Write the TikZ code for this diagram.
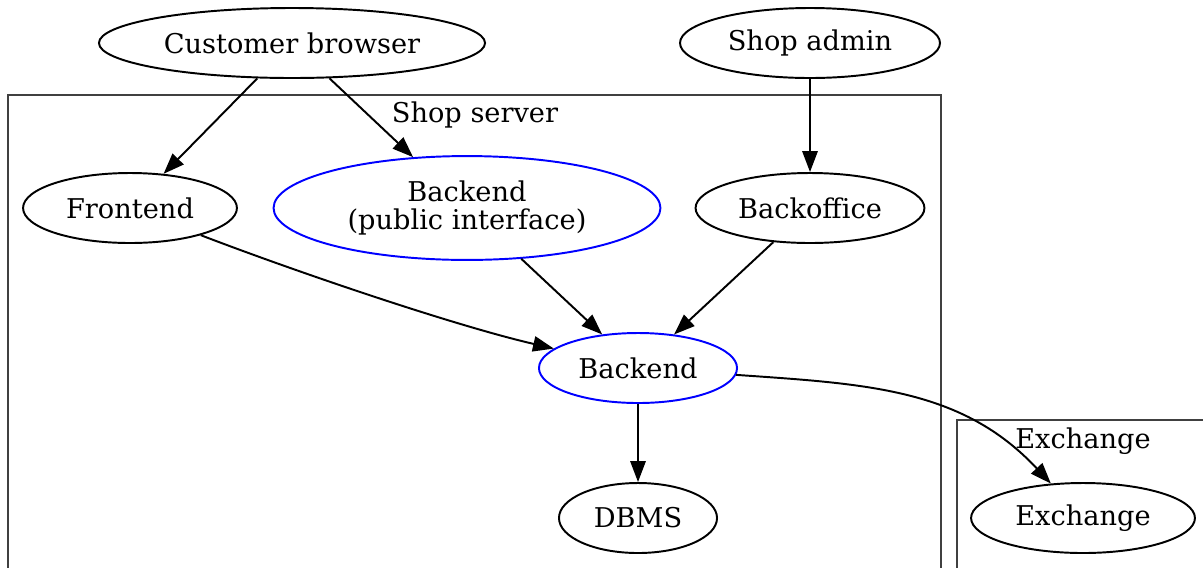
\documentclass[tikz,border=0pt]{standalone}
\usepackage{fontspec}
\setmainfont{DejaVu Serif}
\usetikzlibrary{arrows.meta,shapes.geometric}

\begin{document}
\begin{tikzpicture}[x=0.36pt,y=-0.36pt,
        every node/.style={font=\fontsize{9.8}{10.3}\selectfont},
        entity/.style={ellipse,draw,line width=0.7pt,inner sep=0pt,minimum height=25.2pt},
        service/.style={entity,draw=blue},
        cluster/.style={draw=black!75,line width=0.7pt},
        flow/.style={-{Triangle[length=7.5pt,width=5.5pt]},line width=0.7pt}]
    \clip (0,0) rectangle (1203,567);
    \draw[cluster] (8,95) rectangle (941,600);
    \node (shoplabel) at (475,115) {Shop server};
    \draw[cluster] (957,420) rectangle (1220,600);
    \node (exlabel) at (1083,441) {Exchange};
    \node[entity,minimum width=139pt] (browser) at (292,43) {Customer browser};
    \node[entity,minimum width=93.6pt] (admin) at (810,43) {Shop admin};
    \node[entity,minimum width=77pt] (frontend) at (130,208) {Frontend};
    \node[service,minimum width=139.3pt,minimum height=37.4pt,align=center] (public) at (467,208) {Backend\\(public interface)};
    \node[entity,minimum width=82.4pt] (backoffice) at (810,208) {Backoffice};
    \node[service,minimum width=71.3pt] (backend) at (638,368) {Backend};
    \node[entity,minimum width=56.9pt] (dbms) at (638,518) {DBMS};
    \node[entity,minimum width=80.6pt] (exchange) at (1083,518) {Exchange};
    \draw[flow] (browser) -- (frontend);
    \draw[flow] (browser) -- (public);
    \draw[flow] (admin) -- (backoffice);
    \draw[flow] (frontend) to[out=-21,in=167,looseness=0.7] (backend);
    \draw[flow] (public) -- (backend);
    \draw[flow] (backoffice) -- (backend);
    \draw[flow] (backend) -- (dbms);
    \draw[flow] (backend) to[out=-4,in=133] (exchange);
\end{tikzpicture}
\end{document}
